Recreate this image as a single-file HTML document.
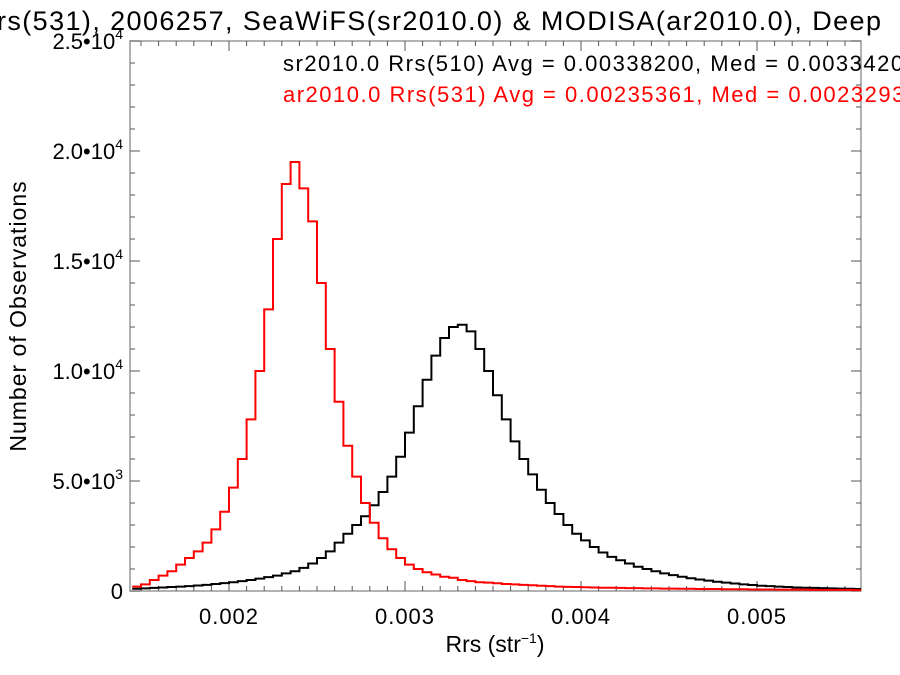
<!DOCTYPE html>
<html><head><meta charset="utf-8">
<style>
html,body{margin:0;padding:0;background:#fff;}
svg{display:block;font-family:"Liberation Sans",sans-serif;}
</style></head>
<body>
<svg id="chart" width="900" height="675" viewBox="0 0 900 675" xmlns="http://www.w3.org/2000/svg">
<text x="-3" y="30" font-size="27" letter-spacing="1.4" fill="#000">rs(531), 2006257, SeaWiFS(sr2010.0) &amp; MODISA(ar2010.0), Deep</text>
<g id="axes"></g>
<g id="series"></g>
<text x="283" y="71" font-size="22" letter-spacing="1.5" fill="#000">sr2010.0 Rrs(510) Avg = 0.00338200, Med = 0.00334200</text>
<text x="283" y="102" font-size="22" letter-spacing="1.5" fill="#ff0000">ar2010.0 Rrs(531) Avg = 0.00235361, Med = 0.00232930</text>
<text transform="translate(26,316) rotate(-90)" text-anchor="middle" font-size="23" letter-spacing="1">Number of Observations</text>
<text x="495" y="652" text-anchor="middle" font-size="23">Rrs (str<tspan font-size="14" dy="-9">−1</tspan><tspan dy="9">)</tspan></text>
</svg>
<script>
const binStart = 0.00145;
const binWidth = 0.00005;
const redCounts = [0.2,0.3,0.5,0.7,0.9,1.2,1.5,1.8,2.2,2.8,3.6,4.7,6.0,7.8,10.0,12.8,16.0,18.5,19.5,18.3,16.8,14.0,11.0,8.6,6.6,5.2,4.0,3.1,2.4,1.9,1.5,1.2,1.0,0.85,0.75,0.65,0.6,0.5,0.45,0.4,0.38,0.35,0.32,0.3,0.28,0.26,0.24,0.22,0.2,0.19,0.18,0.17,0.16,0.15,0.15,0.14,0.13,0.13,0.12,0.12,0.11,0.11,0.10,0.10,0.09,0.09,0.09,0.08,0.08,0.08,0.07,0.07,0.07,0.06,0.06,0.06,0.06,0.05,0.05,0.05,0.05,0.05,0.04];
const blackCounts = [0.1,0.12,0.14,0.16,0.18,0.2,0.22,0.25,0.28,0.32,0.36,0.4,0.45,0.5,0.56,0.63,0.7,0.8,0.9,1.05,1.25,1.5,1.8,2.2,2.6,3.0,3.4,3.9,4.5,5.2,6.1,7.2,8.4,9.6,10.7,11.5,12.0,12.1,11.8,11.0,10.0,8.9,7.8,6.8,6.0,5.3,4.6,4.0,3.5,3.0,2.6,2.3,2.0,1.75,1.55,1.4,1.25,1.1,1.0,0.9,0.8,0.72,0.65,0.58,0.52,0.47,0.42,0.38,0.34,0.3,0.27,0.24,0.22,0.2,0.18,0.16,0.15,0.14,0.13,0.12,0.11,0.1,0.09];
const xTicks = [0.002,0.003,0.004,0.005];
const xTickLabels = ["0.002","0.003","0.004","0.005"];
const yTicks = [0,5000,10000,15000,20000,25000];
const yTickMant = ["0","5.0","1.0","1.5","2.0","2.5"];
const yTickExp = ["","3","4","4","4","4"];

const L=130,R=861,T=41,B=591;
const xMin=0.002-(229-L)/176000, xMax=0.002+(R-229)/176000;
const X=v=>L+(v-xMin)/(xMax-xMin)*(R-L);
const Y=v=>B-(v/25000)*(B-T);
const NS="http://www.w3.org/2000/svg";
function mk(tag,attrs,parent){const e=document.createElementNS(NS,tag);for(const k in attrs)e.setAttribute(k,attrs[k]);parent.appendChild(e);return e;}
const axes=document.getElementById('axes');
const frame=mk('rect',{x:L,y:T,width:R-L,height:B-T,fill:'none',stroke:'#888','stroke-width':1.3},axes);


for(let i=0;i<=60;i++){const v=0.0015+i*0.0001;if(v>xMax)break;const px=X(v);const major=Math.abs(v*1000-Math.round(v*1000))<1e-6;const len=major?10:5;
 const t1=mk('line',{x1:px,x2:px,y1:B,y2:B-len,stroke:'#555','stroke-width':1},axes);
 
 
 mk('line',{x1:px,x2:px,y1:T,y2:T+len,stroke:'#555','stroke-width':1},axes);}
xTicks.forEach((v,i)=>{const t=mk('text',{x:X(v),y:624,'text-anchor':'middle','font-size':22,'letter-spacing':1},axes);t.textContent=xTickLabels[i];
 
 });
for(let v=0;v<=25000;v+=1000){const py=Y(v);const len=(v%5000===0)?10:5;
 const t1=mk('line',{x1:L,x2:L+len,y1:py,y2:py,stroke:'#555','stroke-width':1},axes);
 
 
 mk('line',{x1:R,x2:R-len,y1:py,y2:py,stroke:'#555','stroke-width':1},axes);}
yTicks.forEach((v,i)=>{const t=mk('text',{x:123,y:Y(v)+8,'text-anchor':'end','font-size':22},axes);
 
 
 if(yTickExp[i]===""){t.textContent=yTickMant[i];}
 else{t.textContent=yTickMant[i]+"•10";const s=document.createElementNS(NS,'tspan');s.setAttribute('font-size','14');s.setAttribute('dy','-10');s.textContent=yTickExp[i];t.appendChild(s);}});
const series=document.getElementById('series');
function stepPath(counts){let d='';counts.forEach((c,i)=>{const x0=X(binStart+i*binWidth),x1=X(binStart+(i+1)*binWidth),y=Y(c*1000);
 d+=(i===0?'M'+Math.max(x0,L)+' '+y:' L'+x0+' '+y)+' L'+Math.min(x1,R)+' '+y;});return d;}
const pb=mk('path',{d:stepPath(blackCounts),fill:'none',stroke:'#000','stroke-width':2},series);


const pr=mk('path',{d:stepPath(redCounts),fill:'none',stroke:'#ff0000','stroke-width':2},series);


</script>
</body></html>
